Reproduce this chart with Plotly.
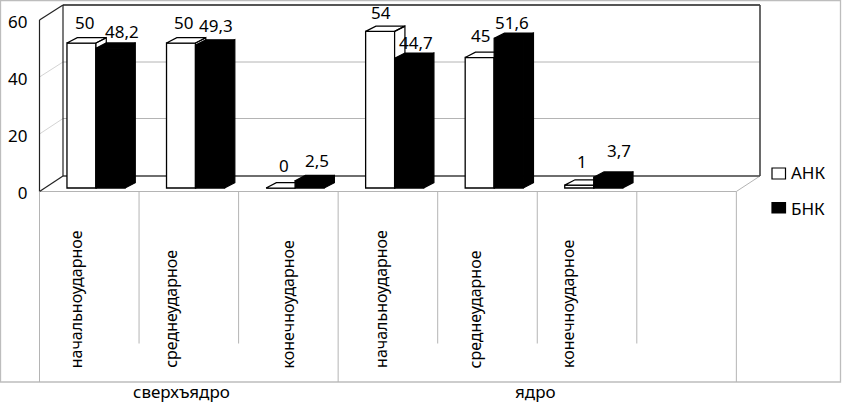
import plotly.graph_objects as go

categories = ["начальноударное", "среднеударное", "конечноударное",
              "начальноударное", "среднеударное", "конечноударное"]
groups = ["сверхъядро", "ядро"]
group_spans = [(0, 3), (3, 7)]
series_names = ["АНК", "БНК"]
ank_values = [50, 50, 0, 54, 45, 1]
bnk_values = [48.2, 49.3, 2.5, 44.7, 51.6, 3.7]
y_ticks = [0, 20, 40, 60]

# styling / layout helpers (pixels of the 842x403 canvas)
W, H = 842, 403
FONT = "Noto Sans"
FS_CAT = 16
FS_TEXT = 17
X0_PX, CAT_PX = 39.5, 99.55          # front-floor origin and category width
Y0_PX, UNIT_PX = 188.0, 2.9          # bar base and pixels per value unit
BAR_W = 29 / CAT_PX
BAR_SHIFT = 6.7 / CAT_PX
DX, DY = 10.3 / CAT_PX, 5.3 / UNIT_PX
ank_nudge = [(3, -5), (2, -5), (3, -3), (1, -7), (1, -4), (3, -2)]
bnk_nudge = [(12, -9), (6, -6), (7, -6), (7, -10), (3, -10), (11, 1)]
cat_nudge = [-13, -18, 0, -7, -12, -19]
group_nudge = [-7, -2]


def px(x):
    return x / W


def py(y):
    return 1 - y / H


def line(x0, y0, x1, y1, color, width=1.0):
    return dict(type="line", xref="paper", yref="paper", x0=px(x0), y0=py(y0), x1=px(x1), y1=py(y1),
                line=dict(color=color, width=width), layer="below")


GRID = "#b4b4b4"
FRAME = "#bdbdbd"
shapes = [
    dict(type="rect", xref="paper", yref="paper", x0=px(0.5), x1=px(840.5), y0=py(0.5), y1=py(382),
         line=dict(color=FRAME, width=1.3), fillcolor="white", layer="below"),
    line(63, 62, 760, 62, GRID), line(63, 118.5, 760, 118.5, GRID),
    line(39.5, 77, 63, 62, "#d4d4d4"), line(39.5, 134, 63, 118.5, "#d4d4d4"),
    line(39.5, 191.5, 736.3, 191.5, GRID), line(736.3, 191.5, 760, 176, GRID),
    line(63, 176, 760, 176, "#6e6e6e", 2), line(63, 5, 760, 5, "#555555", 1.8),
    line(760, 5, 760, 176, "#444444", 1.6),
    line(63, 5, 63, 176, "#222222", 1.2), line(39.5, 20, 39.5, 191.5, "#222222", 1.2),
    line(39.5, 20, 63, 5, "#222222", 1.2), line(39.5, 191.5, 63, 176, "#222222", 1.2),
    # legend swatches
    dict(type="rect", xref="paper", yref="paper", x0=px(772), x1=px(785.5), y0=py(168), y1=py(179),
         line=dict(color="black", width=1.2), fillcolor="white"),
    dict(type="rect", xref="paper", yref="paper", x0=px(772), x1=px(785.5), y0=py(202.5), y1=py(213),
         line=dict(color="black", width=1.2), fillcolor="black"),
]
for i in range(8):
    long_tick = i in (0, 3, 7)
    xp = X0_PX + i * CAT_PX
    shapes.append(line(xp, 191.5, xp, 382 if long_tick else 343.5, GRID))


def extrusion(values, left_offset):
    """Side and top faces of each bar, derived from the values."""
    xs, ys = [], []
    for i, v in enumerate(values):
        x0 = i + 0.5 + BAR_SHIFT + left_offset
        x1 = x0 + BAR_W
        xs += [x1, x1 + DX, x1 + DX, x1, x1, None, x0, x1, x1 + DX, x0 + DX, x0, None]
        ys += [0, DY, v + DY, v, 0, None, v, v, v + DY, v + DY, v, None]
    return xs, ys


fig = go.Figure()
colors = ["white", "black"]
offsets = [-BAR_W, 0]
all_values = [ank_values, bnk_values]
axes = [("x", "y"), ("x2", "y2")]
for k, (name, vals) in enumerate(zip(series_names, all_values)):
    xs, ys = extrusion(vals, offsets[k])
    fig.add_trace(go.Bar(x=[i + 0.5 + BAR_SHIFT for i in range(len(vals))], y=vals, name=name,
                         width=BAR_W, offset=offsets[k], xaxis=axes[k][0], yaxis=axes[k][1],
                         showlegend=False,
                         marker=dict(color=colors[k], line=dict(color="black", width=1.3))))
    fig.add_trace(go.Scatter(x=xs, y=ys, mode="lines", fill="toself", fillcolor=colors[k],
                             xaxis=axes[k][0], yaxis=axes[k][1],
                             line=dict(color="black", width=1.2), showlegend=False, hoverinfo="skip"))

annotations = []
for vals, nudges, off in ((ank_values, ank_nudge, -BAR_W / 2), (bnk_values, bnk_nudge, BAR_W / 2)):
    for i, (v, n) in enumerate(zip(vals, nudges)):
        annotations.append(dict(x=i + 0.5 + BAR_SHIFT + off, y=v + DY, xref="x", yref="y",
                                text=str(v).replace(".", ","), showarrow=False, yanchor="bottom",
                                xshift=n[0], yshift=n[1] + 7, font=dict(family=FONT, size=FS_TEXT, color="black")))
for i, (c, n) in enumerate(zip(categories, cat_nudge)):
    annotations.append(dict(x=i + 0.5, y=py(370), xref="x", yref="paper", text=c, textangle=-90,
                            showarrow=False, yanchor="bottom", xshift=n,
                            font=dict(family=FONT, size=FS_CAT, color="black")))
for g, span, n in zip(groups, group_spans, group_nudge):
    annotations.append(dict(x=sum(span) / 2, y=py(391.5), xref="x", yref="paper", text=g, yanchor="middle",
                            showarrow=False, xshift=n, font=dict(family=FONT, size=FS_TEXT, color="black")))
for name, ypos in zip(series_names, (173, 208)):
    annotations.append(dict(x=px(789), y=py(ypos), xref="paper", yref="paper", text=name, xanchor="left",
                            yanchor="middle", showarrow=False, font=dict(family=FONT, size=FS_TEXT, color="black")))

fig.add_trace(go.Scatter(x=[None], y=y_ticks, yaxis="y3", showlegend=False, hoverinfo="skip"))

x_range = [-X0_PX / CAT_PX, (W - X0_PX) / CAT_PX]
y_range = [(Y0_PX - H) / UNIT_PX, Y0_PX / UNIT_PX]
fig.update_layout(
    width=W, height=H, autosize=False, showlegend=False,
    margin=dict(l=0, r=0, t=0, b=0, pad=0),
    paper_bgcolor="white", plot_bgcolor="rgba(0,0,0,0)",
    barmode="overlay", shapes=shapes, annotations=annotations,
    font=dict(family=FONT, size=FS_TEXT, color="black"),
    xaxis=dict(range=x_range, visible=False, fixedrange=True),
    yaxis=dict(range=y_range, visible=False, fixedrange=True),
    xaxis2=dict(range=x_range, visible=False, fixedrange=True, overlaying="x"),
    yaxis2=dict(range=y_range, visible=False, fixedrange=True, overlaying="y"),
    yaxis3=dict(overlaying="y", anchor="free", position=px(39.5), side="left",
                range=[(193.5 - H) / 2.85, 193.5 / 2.85],
                tickmode="array", tickvals=y_ticks, ticktext=[str(t) for t in y_ticks],
                showgrid=False, zeroline=False, showline=False, ticks="", ticklabelstandoff=12,
                tickfont=dict(family=FONT, size=FS_TEXT, color="black"), fixedrange=True),
)
fig.write_html("out.html", config={"displayModeBar": False},
               post_script="document.body.style.margin='0';")
